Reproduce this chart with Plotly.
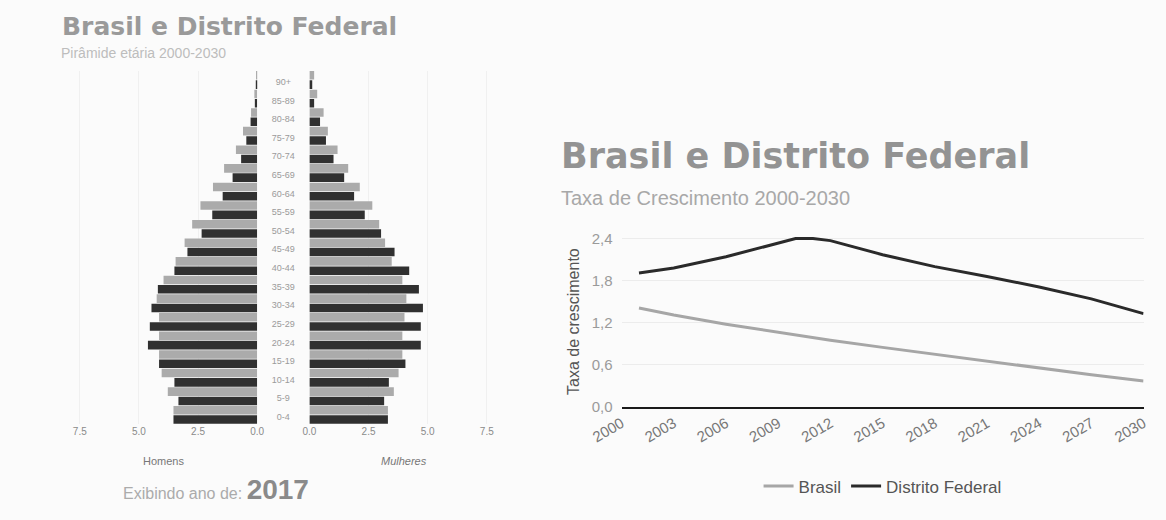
import plotly.graph_objects as go

W, H = 1166, 520

# ---------------- data ----------------
age_groups = ["0-4", "5-9", "10-14", "15-19", "20-24", "25-29", "30-34", "35-39",
              "40-44", "45-49", "50-54", "55-59", "60-64", "65-69", "70-74",
              "75-79", "80-84", "85-89", "90+"]

homens_brasil = [3.54, 3.78, 4.04, 4.15, 4.15, 4.15, 4.25, 3.96, 3.45, 3.07,
                 2.75, 2.40, 1.87, 1.40, 0.90, 0.60, 0.26, 0.12, 0.05]
homens_df = [3.54, 3.33, 3.50, 4.15, 4.62, 4.54, 4.47, 4.20, 3.50, 2.95,
             2.35, 1.90, 1.46, 1.04, 0.68, 0.46, 0.28, 0.10, 0.06]
mulheres_brasil = [3.32, 3.57, 3.77, 3.93, 3.93, 4.02, 4.10, 3.93, 3.48, 3.20,
                   2.95, 2.66, 2.13, 1.64, 1.19, 0.78, 0.60, 0.33, 0.20]
mulheres_df = [3.32, 3.16, 3.36, 4.06, 4.71, 4.71, 4.80, 4.63, 4.22, 3.60,
               3.03, 2.34, 1.89, 1.47, 1.02, 0.70, 0.45, 0.20, 0.12]

pyr_ticks = [7.5, 5.0, 2.5, 0.0]
pyr_ticktext = ["7.5", "5.0", "2.5", "0.0"]

years_df = [2001, 2003, 2006, 2009, 2010, 2011, 2012, 2015, 2018, 2021, 2024, 2027, 2030]
taxa_df = [1.91, 1.98, 2.14, 2.33, 2.40, 2.40, 2.37, 2.17, 2.00, 1.86, 1.71, 1.54, 1.33]
years_br = [2001, 2003, 2006, 2009, 2012, 2015, 2018, 2021, 2024, 2027, 2030]
taxa_br = [1.41, 1.31, 1.18, 1.06, 0.95, 0.85, 0.75, 0.65, 0.55, 0.46, 0.37]

x_ticks = [2000, 2003, 2006, 2009, 2012, 2015, 2018, 2021, 2024, 2027, 2030]
y_ticks = [0.0, 0.6, 1.2, 1.8, 2.4]
y_ticktext = ["0,0", "0,6", "1,2", "1,8", "2,4"]

# ---------------- helpers ----------------
def px(x):
    return x / W

def py(y):
    return 1 - y / H

LIGHT = "#ababab"
DARK = "#303030"
n = len(age_groups)
idx = list(range(n))
y_light = [i + 0.25 for i in idx]
y_dark = [i - 0.25 for i in idx]

fig = go.Figure()

# left pyramid (Homens)
fig.add_trace(go.Bar(x=homens_brasil, y=y_light, orientation="h", width=0.46,
                     marker=dict(color=LIGHT, line=dict(width=0)),
                     xaxis="x", yaxis="y", showlegend=False, name="Brasil"))
fig.add_trace(go.Bar(x=homens_df, y=y_dark, orientation="h", width=0.46,
                     marker=dict(color=DARK, line=dict(width=0)),
                     xaxis="x", yaxis="y", showlegend=False, name="Distrito Federal"))
# right pyramid (Mulheres)
fig.add_trace(go.Bar(x=mulheres_brasil, y=y_light, orientation="h", width=0.46,
                     marker=dict(color=LIGHT, line=dict(width=0)),
                     xaxis="x2", yaxis="y2", showlegend=False, name="Brasil"))
fig.add_trace(go.Bar(x=mulheres_df, y=y_dark, orientation="h", width=0.46,
                     marker=dict(color=DARK, line=dict(width=0)),
                     xaxis="x2", yaxis="y2", showlegend=False, name="Distrito Federal"))
# age labels in the middle
fig.add_trace(go.Scatter(x=[0] * n, y=[i - 0.15 for i in idx], text=age_groups, mode="text",
                         textfont=dict(family="Liberation Sans, Arial", size=9, color="#9a9a9a"),
                         xaxis="x3", yaxis="y3", showlegend=False, hoverinfo="skip"))

# line chart
fig.add_trace(go.Scatter(x=years_br, y=taxa_br, mode="lines", name="Brasil",
                         line=dict(color="#a6a6a6", width=3),
                         xaxis="x4", yaxis="y4"))
fig.add_trace(go.Scatter(x=years_df, y=taxa_df, mode="lines", name="Distrito Federal",
                         line=dict(color="#2a2a2a", width=3),
                         xaxis="x4", yaxis="y4"))

pyr_ydom = [py(430.5), py(70)]
tickfont_pyr = dict(family="Liberation Sans, Arial", size=10, color="#8a8a8a")

fig.update_layout(
    width=W, height=H,
    margin=dict(l=0, r=0, t=0, b=0),
    paper_bgcolor="#fbfbfb", plot_bgcolor="rgba(0,0,0,0)",
    barmode="overlay",
    font=dict(family="Liberation Sans, Arial", color="#666"),
    xaxis=dict(domain=[px(25), px(233)], range=[8.5, 0], anchor="y",
               tickvals=pyr_ticks, ticktext=pyr_ticktext, tickfont=tickfont_pyr,
               showgrid=True, gridcolor="#f0f0f0", zeroline=False, showline=False,
               fixedrange=True),
    yaxis=dict(domain=pyr_ydom, range=[-0.5, n - 0.5], anchor="x", visible=False),
    xaxis2=dict(domain=[px(287), px(495)], range=[0, 8.5], anchor="y2",
                tickvals=pyr_ticks, ticktext=pyr_ticktext, tickfont=tickfont_pyr,
                showgrid=True, gridcolor="#f0f0f0", zeroline=False, showline=False),
    yaxis2=dict(domain=pyr_ydom, range=[-0.5, n - 0.5], anchor="x2", visible=False),
    xaxis3=dict(domain=[px(233), px(287)], range=[-1, 1], anchor="y3", visible=False),
    yaxis3=dict(domain=pyr_ydom, range=[-0.5, n - 0.5], anchor="x3", visible=False),
    xaxis4=dict(domain=[px(610), px(1150)], range=[2000, 2030], anchor="y4",
                tickvals=x_ticks, ticktext=[str(t) for t in x_ticks], tickangle=-30,
                tickfont=dict(family="Liberation Sans, Arial", size=15, color="#777"),
                showgrid=False, zeroline=False, showline=True, linecolor="#1a1a1a",
                linewidth=2, ticks=""),
    yaxis4=dict(domain=[py(413), py(234)], range=[0, 2.5], anchor="x4",
                tickvals=y_ticks, ticktext=y_ticktext,
                tickfont=dict(family="Liberation Sans, Arial", size=15, color="#9a9a9a"),
                showgrid=True, gridcolor="#ececec", zeroline=False, showline=False,
                ticks="", ticklabelstandoff=8),
    legend=dict(orientation="h", x=px(880), xanchor="center", y=py(494), yanchor="middle",
                font=dict(family="Liberation Sans, Arial", size=17, color="#555"),
                bgcolor="rgba(0,0,0,0)"),
    showlegend=True,
)

annotations = [
    dict(text="<b>Brasil e Distrito Federal</b>", x=px(29), y=py(25), xanchor="left", yanchor="middle",
         font=dict(family="DejaVu Sans", size=25, color="#9a9a9a")),
    dict(text="Pirâmide etária 2000-2030", x=px(28), y=py(52), xanchor="left", yanchor="middle",
         font=dict(family="Liberation Sans, Arial", size=14, color="#bdbdbd")),
    dict(text="Homens", x=px(136), y=py(468), xanchor="center", yanchor="middle",
         font=dict(family="Liberation Sans, Arial", size=11, color="#777")),
    dict(text="<i>Mulheres</i>", x=px(385), y=py(468), xanchor="center", yanchor="middle",
         font=dict(family="Liberation Sans, Arial", size=11, color="#777")),
    dict(text="Exibindo ano de: <b><span style='font-size:28px;color:#8a8a8a'>2017</span></b>",
         x=px(190), y=py(497), xanchor="center", yanchor="middle",
         font=dict(family="Liberation Sans, Arial", size=16, color="#ababab")),
    dict(text="<b>Brasil e Distrito Federal</b>", x=px(545), y=py(157), xanchor="left", yanchor="middle",
         font=dict(family="DejaVu Sans", size=35, color="#939393")),
    dict(text="Taxa de Crescimento 2000-2030", x=px(545), y=py(200), xanchor="left", yanchor="middle",
         font=dict(family="Liberation Sans, Arial", size=20, color="#a8a8a8")),
    dict(text="Taxa de crescimento", x=px(560), y=py(326), xanchor="center", yanchor="middle",
         textangle=-90, font=dict(family="Liberation Sans, Arial", size=16, color="#555")),
]
for a in annotations:
    a.update(xref="paper", yref="paper", showarrow=False)
fig.update_layout(annotations=annotations)

fig.write_html("out.html")
